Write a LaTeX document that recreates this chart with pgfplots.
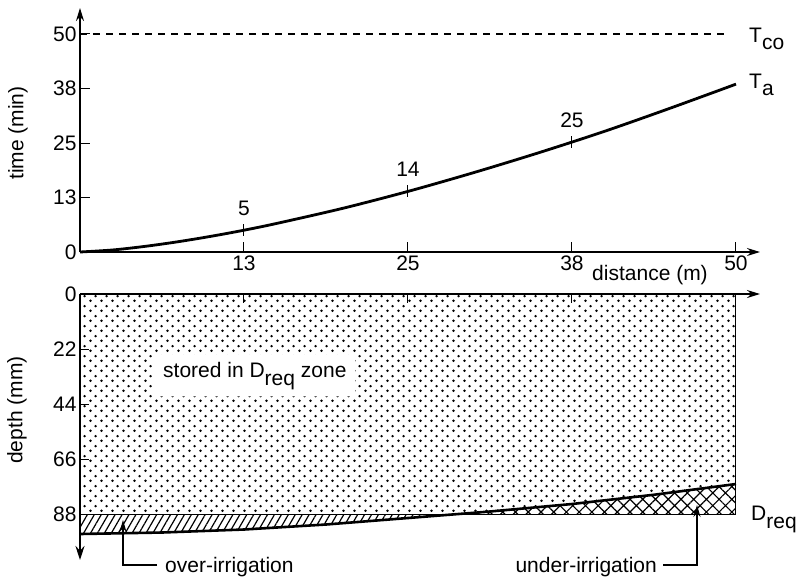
\documentclass[border=0pt]{standalone}
\usepackage{fontspec}
\setmainfont{Liberation Sans}
\usepackage{pgfplots}
\pgfplotsset{compat=1.18}
\usetikzlibrary{patterns,patterns.meta,arrows.meta}
\pgfdeclarepatternformonly{stagdots}{\pgfpointorigin}{\pgfpoint{11pt}{10pt}}{\pgfpoint{11pt}{10pt}}{%
  \pgfpathcircle{\pgfpoint{2.75pt}{2.5pt}}{1.45pt}%
  \pgfpathcircle{\pgfpoint{8.25pt}{7.5pt}}{1.45pt}%
  \pgfusepath{fill}}
\newcommand{\fs}{\fontsize{21}{25}\selectfont}
\begin{document}
\begin{tikzpicture}[font=\fs]
\path[use as bounding box] (0pt,0pt) rectangle (798pt,-582pt);
% ---------- top: advance curve ----------
\begin{axis}[
  at={(80pt,-252pt)}, anchor=south west,
  scale only axis, width=680pt, height=244pt,
  xmin=0, xmax=51.83, ymin=0, ymax=55.96,
  axis lines=left,
  axis line style={line width=1.6pt, -{Stealth[length=13pt,width=8pt]}},
  xtick={12.5,25,37.5,50}, xticklabels={13,25,38,50},
  ytick={0,12.5,25,37.5,50}, yticklabels={0,13,25,38,50},
  tick align=inside, major tick length=10pt,
  tick style={line width=1pt, black},
  tick label style={font=\fs},
  /pgf/number format/assume math mode=true,
  clip=false,
]
\addplot[line width=1.2pt, dash pattern=on 7pt off 6pt] coordinates {(0,50) (49.2,50)};
\addplot[line width=2.8pt, smooth] coordinates {(0,0) (2.5,0.47) (5,1.31) (7.5,2.37) (10,3.61) (12.5,5.0) (15,6.56) (20,10.0) (25,13.9) (30,18.2) (35,22.8) (40,27.7) (45,33.0) (50,38.5)};
\addplot[only marks, mark=|, mark size=6pt, mark options={line width=1pt},
  nodes near coords, point meta=explicit symbolic,
  every node near coord/.append style={font=\fs, anchor=base, yshift=15pt}]
  table[meta=lab, row sep=\\] {x y lab\\ 12.5 5.0 5\\ 25 13.9 14\\ 37.5 25.2 25\\};
\end{axis}
% ---------- bottom: infiltrated depth ----------
\begin{axis}[
  at={(80pt,-294pt)}, anchor=north west,
  scale only axis, width=680pt, height=266pt,
  xmin=0, xmax=51.83, ymin=0, ymax=106.4, y dir=reverse,
  axis x line=top, axis y line=left,
  x axis line style={line width=1.6pt, -{Stealth[length=13pt,width=8pt]}},
  y axis line style={draw=none},
  xtick={12.5,25,37.5}, xticklabels={},
  ytick={0,22,44,66,88},
  tick align=inside, major tick length=9pt,
  tick style={line width=1pt, black},
  tick label style={font=\fs},
  /pgf/number format/assume math mode=true,
  clip=false,
]
\addplot[draw=none, pattern=stagdots] coordinates {(0,0) (50,0) (50,76) (43.75,80.3) (37.5,84) (31.25,87) (28.85,88) (0,88)} -- cycle;
\addplot[draw=none, pattern={Lines[angle=60, distance=6pt, line width=1.2pt]}] coordinates {(0,88) (0,96) (6.25,95.4) (12.5,94.2) (18.75,92.2) (25,89.6) (28.85,88)} -- cycle;
\addplot[draw=none, pattern={Hatch[angle=45, distance=9pt, line width=1.2pt]}] coordinates {(28.85,88) (31.25,87) (37.5,84) (43.75,80.3) (50,76) (50,88)} -- cycle;
\addplot[line width=1pt] coordinates {(0,88) (50,88)};
\addplot[line width=1pt] coordinates {(50,0) (50,88)};
\addplot[line width=2.6pt] coordinates {(0,96) (6.25,95.4) (12.5,94.2) (18.75,92.2) (25,89.6) (31.25,87) (37.5,84) (43.75,80.3) (50,76)};
\end{axis}
\draw[line width=1.6pt, -{Stealth[length=14pt,width=9pt]}] (80pt,-294pt) -- (80pt,-560pt);
% ---------- labels ----------
\node[rotate=90, inner sep=0pt] at (18pt,-133pt) {time (min)};
\node[rotate=90, inner sep=0pt] at (17pt,-410pt) {depth (mm)};
\node[anchor=base, inner sep=0pt] at (650pt,-280pt) {distance (m)};
\node[anchor=base west, inner sep=0pt] at (749pt,-42pt) {T\raisebox{-7pt}{co}};
\node[anchor=base west, inner sep=0pt] at (749pt,-88pt) {T\raisebox{-7pt}{a}};
\node[anchor=base west, inner sep=0pt] at (751pt,-520pt) {D\raisebox{-8pt}{req}};
\node[anchor=base west, fill=white, inner xsep=9pt, inner ysep=7pt, rounded corners=6pt] at (154pt,-377pt) {stored in D\raisebox{-8pt}{req} zone};
\node[anchor=base west, inner sep=0pt] at (165pt,-572pt) {over-irrigation};
\draw[line width=1.2pt, -{Stealth[length=12pt,width=7pt]}] (157pt,-565pt) -- (123pt,-565pt) -- (123pt,-520pt);
\node[anchor=base east, inner sep=0pt] at (657pt,-572pt) {under-irrigation};
\draw[line width=1.2pt, -{Stealth[length=12pt,width=7pt]}] (663pt,-565pt) -- (697pt,-565pt) -- (697pt,-505pt);
\end{tikzpicture}
\end{document}
